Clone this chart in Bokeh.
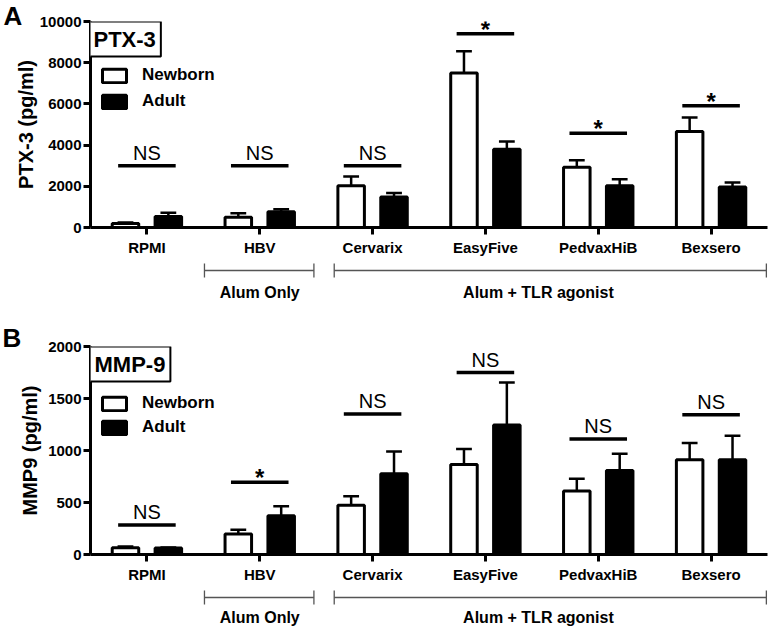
from bokeh.plotting import figure
from bokeh.models import (ColumnDataSource, FactorRange, Range1d, FixedTicker,
                          Label, Legend, LegendItem)
from bokeh.transform import dodge
from bokeh.layouts import column
from bokeh.embed import file_html
from bokeh.resources import INLINE
from bokeh.core.properties import value

# ---------------- data ----------------
categories = ["RPMI", "HBV", "Cervarix", "EasyFive", "PedvaxHiB", "Bexsero"]

ptx_newborn = [200, 500, 2030, 7500, 2920, 4660]
ptx_newborn_sem = [40, 190, 440, 1050, 350, 680]
ptx_adult = [530, 770, 1475, 3800, 2030, 1970]
ptx_adult_sem = [190, 120, 205, 370, 310, 210]
ptx_sig_y = [3000, 3000, 3000, 9400, 4580, 5910]
ptx_sig = ["NS", "NS", "NS", "*", "*", "*"]

mmp_newborn = [64, 197, 474, 865, 611, 910]
mmp_newborn_sem = [12, 42, 86, 150, 118, 162]
mmp_adult = [62, 372, 776, 1244, 808, 910]
mmp_adult_sem = [6, 93, 214, 411, 160, 232]
mmp_sig_y = [283, 694, 1352, 1750, 1111, 1343]
mmp_sig = ["NS", "*", "NS", "NS", "NS", "NS"]

ptx_ticks = [0, 2000, 4000, 6000, 8000, 10000]
mmp_ticks = [0, 500, 1000, 1500, 2000]

group_labels = ["Alum Only", "Alum + TLR agonist"]
group_first = ["HBV", "Cervarix"]
group_last = ["HBV", "Bexsero"]

# ---------------- style ----------------
FONT = "Liberation Sans"
W = 771
BAR_OFF = 0.19
BAR_W = 0.235
CAP = 0.07
SIG_HALF = 0.255
BR_PAD_L = [0.49, 0.34]
BR_PAD_R = [0.48, 0.49]
BR_TEXT = [("HBV", 0.0), ("EasyFive", 0.47)]


def panel(letter, title, ylabel, y_end, ticks, nb, nb_sem, ad, ad_sem, sig_y, sig,
          h, left, right, top, bottom, lab_standoff, letter_xy, legend_loc,
          legend_spacing, box_x):
    p = figure(width=W, height=h,
               x_range=FactorRange(factors=categories, range_padding=0),
               y_range=Range1d(0, y_end),
               output_backend="svg", toolbar_location=None,
               min_border_left=left, min_border_right=right,
               min_border_top=top, min_border_bottom=bottom)
    p.outline_line_color = None
    p.grid.visible = False
    p.background_fill_color = "white"
    p.border_fill_color = "white"

    ya = p.yaxis[0]
    ya.ticker = FixedTicker(ticks=ticks)
    ya.minor_tick_line_color = None
    ya.major_tick_in = 0
    ya.major_tick_out = 7
    ya.major_tick_line_width = 3
    ya.major_tick_line_color = "black"
    ya.axis_line_width = 3
    ya.axis_line_color = "black"
    ya.major_label_text_font = FONT
    ya.major_label_text_font_style = "bold"
    ya.major_label_text_font_size = "15px"
    ya.major_label_text_color = "black"
    ya.major_label_standoff = 2
    ya.axis_label = ylabel
    ya.axis_label_text_font = FONT
    ya.axis_label_text_font_style = "bold"
    ya.axis_label_text_font_size = "20px"
    ya.axis_label_text_color = "black"
    ya.axis_label_standoff = lab_standoff

    xa = p.xaxis[0]
    xa.major_tick_in = 0
    xa.major_tick_out = 7
    xa.major_tick_line_width = 3
    xa.major_tick_line_color = "black"
    xa.axis_line_width = 3
    xa.axis_line_color = "black"
    xa.major_label_text_font = FONT
    xa.major_label_text_font_style = "bold"
    xa.major_label_text_font_size = "15px"
    xa.major_label_text_color = "black"
    xa.major_label_standoff = 4

    src = ColumnDataSource(dict(
        cat=categories, nb=nb, ad=ad,
        nb_top=[v + e for v, e in zip(nb, nb_sem)],
        ad_top=[v + e for v, e in zip(ad, ad_sem)],
        sig_y=sig_y, sig=sig))

    # error bars (upper only)
    for off, mcol, tcol in ((-BAR_OFF, "nb", "nb_top"), (BAR_OFF, "ad", "ad_top")):
        p.segment(x0=dodge("cat", off, range=p.x_range), y0=mcol,
                  x1=dodge("cat", off, range=p.x_range), y1=tcol,
                  line_color="black", line_width=2.5, source=src)
        p.segment(x0=dodge("cat", off - CAP, range=p.x_range), y0=tcol,
                  x1=dodge("cat", off + CAP, range=p.x_range), y1=tcol,
                  line_color="black", line_width=2.5, source=src)

    r_nb = p.vbar(x=dodge("cat", -BAR_OFF, range=p.x_range), top="nb", bottom=0,
                  width=BAR_W, fill_color="white", line_color="black",
                  line_width=3, source=src)
    r_ad = p.vbar(x=dodge("cat", BAR_OFF, range=p.x_range), top="ad", bottom=0,
                  width=BAR_W, fill_color="black", line_color="black",
                  line_width=3, source=src)

    # significance lines
    p.segment(x0=dodge("cat", -SIG_HALF, range=p.x_range), y0="sig_y",
              x1=dodge("cat", SIG_HALF, range=p.x_range), y1="sig_y",
              line_color="black", line_width=3.5, source=src)
    ns_idx = [i for i, s in enumerate(sig) if s == "NS"]
    st_idx = [i for i, s in enumerate(sig) if s != "NS"]
    ns_src = ColumnDataSource(dict(cat=[categories[i] for i in ns_idx],
                                   y=[sig_y[i] for i in ns_idx],
                                   t=[sig[i] for i in ns_idx]))
    st_src = ColumnDataSource(dict(cat=[categories[i] for i in st_idx],
                                   y=[sig_y[i] for i in st_idx],
                                   t=[sig[i] for i in st_idx]))
    p.text(x="cat", y="y", text="t", source=ns_src, text_align="center",
           text_baseline="middle", y_offset=-13, text_font=value(FONT),
           text_font_size="20px", text_color="black")
    p.text(x="cat", y="y", text="t", source=st_src, text_align="center",
           text_baseline="alphabetic", y_offset=-4.5, text_font=value(FONT),
           text_font_size="24px", text_font_style="bold", text_color="black")

    legend = Legend(items=[LegendItem(label="Newborn", renderers=[r_nb]),
                           LegendItem(label="Adult", renderers=[r_ad])],
                    location=legend_loc, glyph_width=30, glyph_height=17,
                    label_height=20, spacing=legend_spacing, padding=0, margin=0,
                    border_line_color=None, background_fill_alpha=0,
                    label_text_font=FONT, label_text_font_style="bold",
                    label_text_font_size="17px", label_text_color="black",
                    label_standoff=13)
    p.add_layout(legend)

    p.add_layout(Label(x=box_x, y=y_end, x_units="screen", y_units="data", text=title,
                       anchor="top_left", padding=5, border_line_color="black",
                       border_line_width=2, background_fill_color="white",
                       text_font=FONT, text_font_style="bold", text_font_size="22px",
                       text_color="black"))

    # panel letter (drawn above the frame level so it is not clipped)
    lsrc = ColumnDataSource(dict(x=[letter_xy[0]], y=[letter_xy[1]], t=[letter]))
    p.text(x="x", y="y", text="t", source=lsrc, text_align="left",
           text_baseline="middle", text_font=value(FONT), text_font_style="bold",
           text_font_size="26px", text_color="black", level="overlay")
    return p


def brackets(xr, h, left, right, line_y, text_y):
    b = figure(width=W, height=h, x_range=xr, y_range=Range1d(h, 0),
               output_backend="svg", toolbar_location=None,
               x_axis_location=None, y_axis_location=None,
               min_border_left=left, min_border_right=right,
               min_border_top=0, min_border_bottom=0)
    b.outline_line_color = None
    b.grid.visible = False
    x0 = [(f, -pl) for f, pl in zip(group_first, BR_PAD_L)]
    x1 = [(l, pr) for l, pr in zip(group_last, BR_PAD_R)]
    s = ColumnDataSource(dict(x0=x0, x1=x1))
    b.segment(x0="x0", x1="x1", y0=line_y, y1=line_y, line_color="#555555",
              line_width=1.3, source=s)
    b.segment(x0="x0", x1="x0", y0=line_y - 7, y1=line_y + 7, line_color="#555555",
              line_width=1.3, source=s)
    b.segment(x0="x1", x1="x1", y0=line_y - 7, y1=line_y + 7, line_color="#555555",
              line_width=1.3, source=s)
    t = ColumnDataSource(dict(x=BR_TEXT, label=group_labels))
    b.text(x="x", y=text_y, text="label", source=t, text_align="center",
           text_baseline="middle", text_font=value(FONT), text_font_style="bold",
           text_font_size="16px", text_color="black")
    return b


pa = panel("A", "PTX-3", "PTX-3 (pg/ml)", 10000, ptx_ticks,
           ptx_newborn, ptx_newborn_sem, ptx_adult, ptx_adult_sem, ptx_sig_y, ptx_sig,
           h=258, left=86, right=4, top=21, bottom=29, lab_standoff=0,
           letter_xy=(("RPMI", -1.27), 10288), legend_loc=(9, 116),
           legend_spacing=6, box_x=-2)
ba = brackets(pa.x_range, 47, 86, 4, 12, 34)

pb = panel("B", "MMP-9", "MMP9 (pg/ml)", 2000, mmp_ticks,
           mmp_newborn, mmp_newborn_sem, mmp_adult, mmp_adult_sem, mmp_sig_y, mmp_sig,
           h=280, left=90, right=1, top=41, bottom=29, lab_standoff=4,
           letter_xy=(("RPMI", -1.28), 2080), legend_loc=(9, 117),
           legend_spacing=4, box_x=-1)
bb = brackets(pb.x_range, 43, 90, 1, 12, 32)

layout = column(pa, ba, pb, bb, spacing=0)
open("out.html", "w").write(file_html(layout, INLINE))
